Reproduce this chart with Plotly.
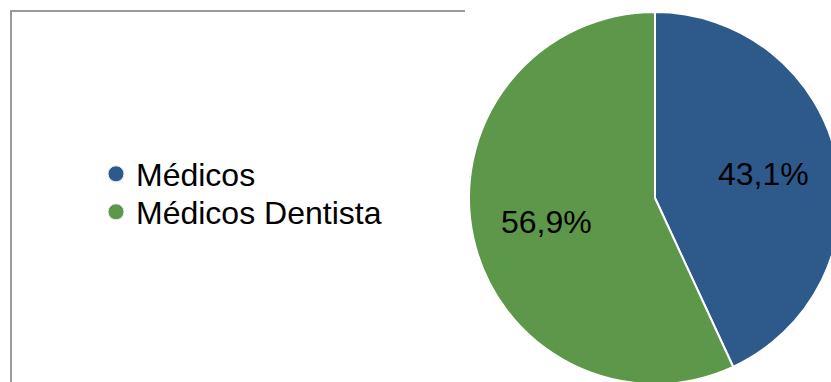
import math
import plotly.graph_objects as go

categories = ["Médicos", "Médicos Dentista"]
values = [43.1, 56.9]
colors = ["#2E5A8B", "#5D9749"]

W, H = 845, 386
# pie placement in pixels (layout)
PIE_L, PIE_R, PIE_T, PIE_B = 469, 841, 12, 384
CX, CY = (PIE_L + PIE_R) / 2, (PIE_T + PIE_B) / 2
RAD = (PIE_R - PIE_L) / 2
LABEL_R = 0.60

fig = go.Figure()
fig.add_trace(go.Pie(
    labels=categories,
    values=values,
    sort=False,
    direction="clockwise",
    rotation=0,
    marker=dict(colors=colors, line=dict(color="white", width=2)),
    textinfo="none",
    hoverinfo="label+percent",
    showlegend=False,
    domain=dict(x=[PIE_L / W, PIE_R / W], y=[1 - PIE_B / H, 1 - PIE_T / H]),
))

# slice percentage labels, positioned from the data (mid-angle of each slice)
total = sum(values)
cum = 0.0
annotations = []
for v in values:
    mid = (cum + v / 2) / total * 2 * math.pi
    cum += v
    px = CX + LABEL_R * RAD * math.sin(mid)
    py = CY - LABEL_R * RAD * math.cos(mid)
    annotations.append(dict(
        x=px / W, y=1 - py / H, xref="paper", yref="paper",
        text=f"{v / total * 100:.1f}%".replace(".", ","),
        showarrow=False, xanchor="center", yanchor="middle",
        font=dict(size=32, color="black", family="Liberation Sans, Arial"),
    ))

legend_ids = ["legend", "legend2"]
for name, col, lid in zip(categories, colors, legend_ids):
    fig.add_trace(go.Scatter(
        x=[None], y=[None], mode="markers", name=name, legend=lid,
        marker=dict(symbol="circle", size=16, color=col, line=dict(color="#e8edf3", width=1)),
        hoverinfo="skip",
    ))

leg_common = dict(
    xanchor="left", yanchor="middle",
    font=dict(size=32, color="black", family="Liberation Sans, Arial"),
    bgcolor="rgba(0,0,0,0)", itemclick=False, itemdoubleclick=False,
)

fig.update_layout(
    width=W, height=H,
    margin=dict(l=0, r=0, t=0, b=0),
    paper_bgcolor="white", plot_bgcolor="white",
    separators=",.",
    font=dict(family="Liberation Sans, Arial", color="black"),
    xaxis=dict(visible=False), yaxis=dict(visible=False),
    legend=dict(x=96 / W, y=1 - 174 / H, **leg_common),
    legend2=dict(x=96 / W, y=1 - 212 / H, **leg_common),
    annotations=annotations,
    shapes=[
        dict(type="line", xref="paper", yref="paper",
             x0=10 / W, x1=465 / W, y0=1 - 11 / H, y1=1 - 11 / H,
             line=dict(color="#9a9a9a", width=2)),
        dict(type="line", xref="paper", yref="paper",
             x0=11 / W, x1=11 / W, y0=1 - 10 / H, y1=0,
             line=dict(color="#9a9a9a", width=2)),
    ],
)

fig.write_html(
    "out.html",
    config={"displayModeBar": False},
    post_script="document.documentElement.style.overflow='hidden';document.body.style.overflow='hidden';document.body.style.margin='0';",
)
